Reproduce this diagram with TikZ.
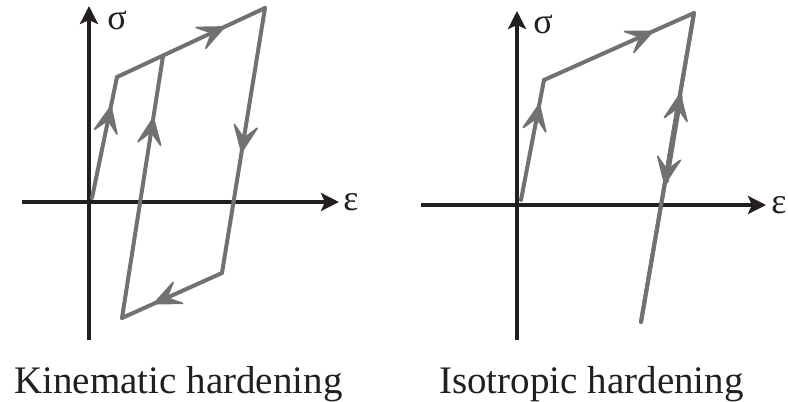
\documentclass[tikz,border=0pt]{standalone}
\usepackage{fontspec}
\setmainfont{Liberation Serif}
\usetikzlibrary{arrows.meta,decorations.markings}
\definecolor{curvec}{RGB}{112,113,115}
\definecolor{axisc}{RGB}{35,31,32}
\begin{document}
\begin{tikzpicture}[x=1pt,y=-1pt,
  axisline/.style={line width=4pt, draw=axisc, -{Stealth[length=18pt,width=18pt,inset=4pt]}},
  curveline/.style={line width=4pt, draw=curvec, line cap=round, line join=round},
  midarrow/.style={postaction={decorate,decoration={markings,
     mark=at position #1 with {\filldraw[curvec, line width=1.6pt, line join=round]
        (1pt,0pt) -- (-25pt,11.5pt) -- (-13pt,0pt) -- (-25pt,-11.5pt) -- cycle;}}}},
  axlabel/.style={font=\fontsize{36}{38}\selectfont, text=axisc, inner sep=0pt},
  caption/.style={font=\fontsize{39}{44}\selectfont, text=axisc, anchor=base, inner sep=0pt}]
\useasboundingbox (0,0) rectangle (788,402);
% ---------- Kinematic ----------
\coordinate (vb1) at (89,340);
\coordinate (vt1) at (89,6);
\coordinate (hl1) at (22,202);
\coordinate (hr1) at (339,202);
\draw[axisline] (vb1) -- (vt1);
\draw[axisline] (hl1) -- (hr1);
\node[axlabel] (s1) at (117,20) {σ};
\node[axlabel] (e1) at (351,202) {ε};
\coordinate (O1) at (92,198);
\coordinate (A1) at (117,77);
\coordinate (B1) at (265,8);
\coordinate (C1) at (222,273);
\coordinate (D1) at (122,318);
\coordinate (E1) at (163,56);
\draw[curveline, midarrow=0.75] (O1) -- (A1);
\draw[curveline, midarrow=0.72] (A1) -- (B1);
\draw[curveline, midarrow=0.54] (B1) -- (C1);
\draw[curveline, midarrow=0.67] (C1) -- (D1);
\draw[curveline, midarrow=0.76] (D1) -- (E1);
\node[caption] (k) at (178.5,393) {Kinematic hardening};
% ---------- Isotropic ----------
\coordinate (vb2) at (517,340);
\coordinate (vt2) at (517,11);
\coordinate (hl2) at (421,205);
\coordinate (hr2) at (766,205);
\draw[axisline] (vb2) -- (vt2);
\draw[axisline] (hl2) -- (hr2);
\node[axlabel] (s2) at (543,24) {σ};
\node[axlabel] (e2) at (779,205) {ε};
\coordinate (O2) at (521,200);
\coordinate (A2) at (544,80);
\coordinate (B2) at (694,13);
\coordinate (C2) at (641,322);
\draw[curveline, midarrow=0.79] (O2) -- (A2);
\draw[curveline, midarrow=0.72] (A2) -- (B2);
\draw[curveline, midarrow=0.735] (C2) -- (B2);
\draw[curveline, midarrow=0.55] (B2) -- (C2);
\coordinate (U2) at (680,97);
\coordinate (L2) at (666,181);
\draw[curveline, line width=5.5pt] (U2) -- (L2);
\node[caption] (i) at (591.5,393) {Isotropic hardening};
\end{tikzpicture}
\end{document}
